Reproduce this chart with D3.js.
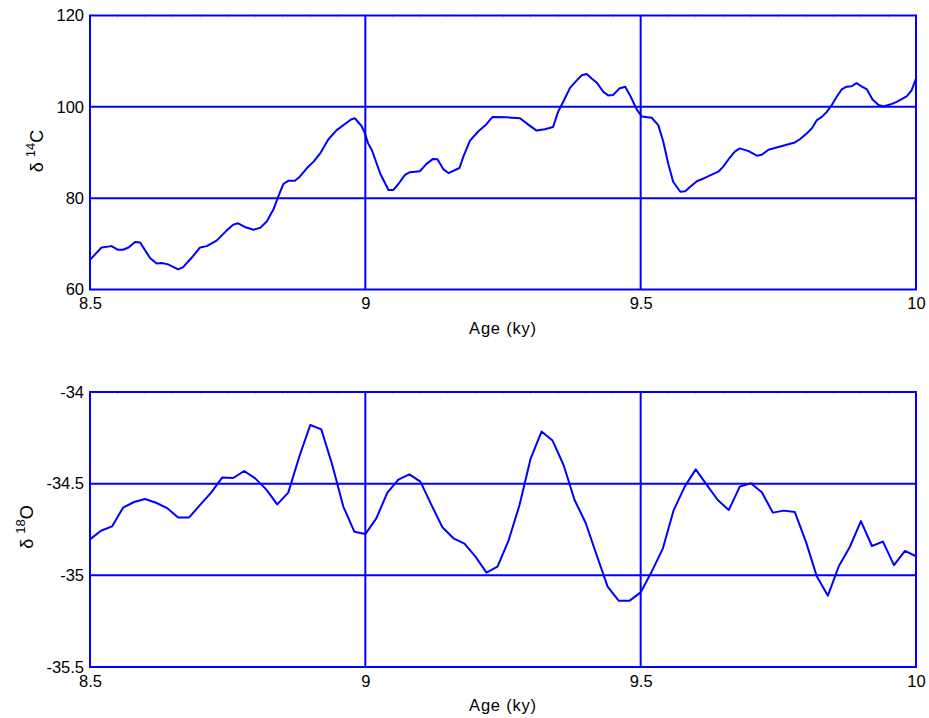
<!DOCTYPE html>
<html><head><meta charset="utf-8">
<script src="https://cdn.jsdelivr.net/npm/d3@7"></script>
<style>
html,body{margin:0;padding:0;background:#fff;}
text{font-family:"Liberation Sans",Arial,sans-serif;fill:#000;}
</style></head>
<body>
<svg id="chart" width="929" height="718"></svg>
<script>
// Top panel: delta 14C vs age (ky)
const c14Age = [8.500,8.521,8.539,8.551,8.560,8.570,8.582,8.591,8.609,8.621,8.630,8.642,8.660,8.669,8.685,8.700,8.712,8.730,8.748,8.760,8.769,8.781,8.797,8.809,8.821,8.833,8.842,8.851,8.860,8.872,8.881,8.894,8.906,8.918,8.933,8.948,8.966,8.975,8.981,8.993,8.999,9.005,9.012,9.027,9.042,9.051,9.060,9.072,9.081,9.099,9.111,9.123,9.131,9.142,9.151,9.171,9.178,9.190,9.205,9.220,9.231,9.257,9.281,9.296,9.311,9.326,9.341,9.350,9.361,9.372,9.384,9.393,9.402,9.411,9.421,9.432,9.441,9.450,9.461,9.472,9.482,9.493,9.502,9.520,9.532,9.541,9.550,9.559,9.572,9.581,9.590,9.602,9.614,9.626,9.641,9.650,9.662,9.671,9.680,9.696,9.711,9.720,9.732,9.747,9.765,9.780,9.789,9.802,9.811,9.820,9.829,9.838,9.847,9.856,9.865,9.874,9.883,9.892,9.901,9.911,9.921,9.932,9.941,9.953,9.965,9.983,9.992,10.000];
const c14Val = [66.5,69.2,69.5,68.7,68.7,69.2,70.4,70.3,66.9,65.7,65.8,65.5,64.4,64.9,67.0,69.2,69.5,70.7,72.9,74.2,74.5,73.7,73.1,73.5,74.9,77.5,80.4,83.1,83.8,83.8,84.7,86.6,88.0,89.8,92.9,94.9,96.5,97.3,97.5,95.8,94.3,92.0,90.5,85.4,81.8,81.8,83.1,85.1,85.7,85.9,87.5,88.6,88.5,86.3,85.5,86.6,89.1,92.6,94.6,96.2,97.8,97.7,97.5,96.1,94.8,95.1,95.6,98.9,101.5,104.2,105.8,106.9,107.2,106.2,105.2,103.3,102.5,102.6,104.0,104.4,102.2,99.4,97.9,97.6,96.0,92.4,87.6,83.6,81.4,81.5,82.5,83.7,84.3,85.0,85.8,86.9,88.9,90.2,90.9,90.3,89.3,89.5,90.6,91.1,91.7,92.2,92.9,94.2,95.3,97.1,97.8,98.9,100.4,102.2,103.8,104.4,104.5,105.2,104.5,103.8,101.6,100.4,100.1,100.5,101.1,102.3,103.6,106.2];

// Bottom panel: delta 18O vs age (ky)
const o18Age = [8.50,8.52,8.54,8.56,8.58,8.60,8.62,8.64,8.66,8.68,8.70,8.72,8.74,8.76,8.78,8.80,8.82,8.84,8.86,8.88,8.90,8.92,8.94,8.96,8.98,9.00,9.02,9.04,9.06,9.08,9.10,9.12,9.14,9.16,9.18,9.20,9.22,9.24,9.26,9.28,9.30,9.32,9.34,9.36,9.38,9.40,9.42,9.44,9.46,9.48,9.50,9.52,9.54,9.56,9.58,9.60,9.62,9.64,9.66,9.68,9.70,9.72,9.74,9.76,9.78,9.80,9.82,9.84,9.86,9.88,9.90,9.92,9.94,9.96,9.98,10.00];
const o18Val = [-34.804,-34.757,-34.733,-34.631,-34.600,-34.584,-34.604,-34.633,-34.685,-34.684,-34.616,-34.549,-34.467,-34.469,-34.431,-34.471,-34.531,-34.613,-34.549,-34.353,-34.180,-34.204,-34.398,-34.625,-34.762,-34.775,-34.689,-34.549,-34.478,-34.449,-34.489,-34.616,-34.738,-34.798,-34.827,-34.898,-34.985,-34.953,-34.811,-34.616,-34.365,-34.216,-34.265,-34.398,-34.589,-34.713,-34.889,-35.062,-35.138,-35.138,-35.093,-34.980,-34.856,-34.644,-34.516,-34.422,-34.507,-34.589,-34.644,-34.516,-34.498,-34.547,-34.658,-34.647,-34.655,-34.816,-35.007,-35.111,-34.949,-34.844,-34.704,-34.840,-34.816,-34.944,-34.867,-34.896];

const xTicks = [8.5, 9, 9.5, 10];
const xTickLabels = ["8.5", "9", "9.5", "10"];
const xGrid = [9, 9.5];
const c14Ticks = [60, 80, 100, 120];
const c14Grid = [80, 100];
const o18Ticks = [-35.5, -35, -34.5, -34];
const o18Grid = [-35, -34.5];

const BLUE = "#0000ff";
const svg = d3.select("#chart");

function panel(cfg) {
  const x = d3.scaleLinear().domain([8.5, 10]).range([90, 916]);
  const y = d3.scaleLinear().domain(cfg.yDomain).range([cfg.bottom, cfg.top]);
  const g = svg.append("g");

  // faint minor ticks on top edge
  const minor = d3.range(8.5, 10.0001, 0.05);
  g.append("g").selectAll("line").data(minor).join("line")
    .attr("x1", d => x(d)).attr("x2", d => x(d))
    .attr("y1", cfg.top - 1).attr("y2", cfg.top + 2)
    .attr("stroke", "#bbb").attr("stroke-width", 0.8);

  // grid lines
  g.append("g").selectAll("line").data(xGrid).join("line")
    .attr("x1", d => x(d)).attr("x2", d => x(d))
    .attr("y1", cfg.top).attr("y2", cfg.bottom)
    .attr("stroke", BLUE).attr("stroke-width", 2);
  g.append("g").selectAll("line").data(cfg.grid).join("line")
    .attr("x1", 90).attr("x2", 916)
    .attr("y1", d => y(d)).attr("y2", d => y(d))
    .attr("stroke", BLUE).attr("stroke-width", 2);

  const xAxis = d3.axisBottom(x).tickValues(xTicks)
    .tickFormat((d, i) => xTickLabels[i]).tickSize(0).tickPadding(8);
  const xa = g.append("g").attr("transform", `translate(0,${cfg.bottom})`).call(xAxis);
  xa.select(".domain").remove();
  xa.selectAll("text").attr("font-size", 16.5).attr("fill", "#000")
    .attr("font-family", '"Liberation Sans",Arial,sans-serif');

  const yAxis = d3.axisLeft(y).tickValues(cfg.ticks).tickSize(0).tickPadding(6)
    .tickFormat(d => String(d));
  const ya = g.append("g").attr("transform", "translate(90,0)").call(yAxis);
  ya.select(".domain").remove();
  ya.selectAll("text").attr("font-size", 16.5).attr("fill", "#000")
    .attr("font-family", '"Liberation Sans",Arial,sans-serif');

  g.append("rect").attr("x", 90).attr("y", cfg.top)
    .attr("width", 826).attr("height", cfg.bottom - cfg.top)
    .attr("fill", "none").attr("stroke", BLUE).attr("stroke-width", 2);

  const data = cfg.ages.map((a, i) => [a, cfg.vals[i]]);
  g.append("path").datum(data)
    .attr("fill", "none").attr("stroke", BLUE).attr("stroke-width", 2)
    .attr("stroke-linejoin", "round")
    .attr("d", d3.line().x(d => x(d[0])).y(d => y(d[1])));

  g.append("text").attr("x", 503).attr("y", cfg.bottom + 44)
    .attr("text-anchor", "middle").attr("font-size", 16.5)
    .attr("letter-spacing", 0.8).text("Age (ky)");

  const yl = g.append("text")
    .attr("transform", `translate(${cfg.ylx},${cfg.yly}) rotate(-90)`)
    .attr("text-anchor", "middle").attr("font-size", 18);
  yl.append("tspan").text("δ ");
  yl.append("tspan").attr("font-size", 13).attr("dy", -8).text(cfg.sup);
  yl.append("tspan").attr("dy", 8).text(cfg.el);
}

panel({top: 15.5, bottom: 289.5, yDomain: [60, 120], ticks: c14Ticks, grid: c14Grid,
  ages: c14Age, vals: c14Val, ylx: 43, yly: 151, sup: "14", el: "C"});
panel({top: 392, bottom: 667, yDomain: [-35.5, -34], ticks: o18Ticks, grid: o18Grid,
  ages: o18Age, vals: o18Val, ylx: 33, yly: 527, sup: "18", el: "O"});
</script>
</body></html>
